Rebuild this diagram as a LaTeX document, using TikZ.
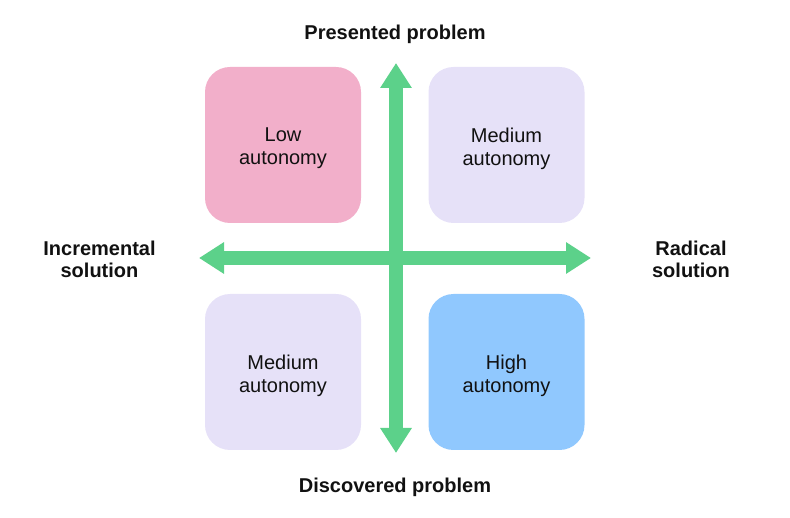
\documentclass[tikz,border=0pt]{standalone}
\usepackage{fontspec}
\setmainfont{Liberation Sans}
\usetikzlibrary{arrows.meta}
\definecolor{qpink}{HTML}{F2AFCA}
\definecolor{qlav}{HTML}{E6E1F8}
\definecolor{qblue}{HTML}{90C8FE}
\definecolor{qgreen}{HTML}{5CD18A}
\definecolor{qtext}{HTML}{111111}
\tikzset{
  quadbox/.style={draw=none, rounded corners=25pt, minimum width=156pt, minimum height=156pt, inner sep=0pt},
  boxtext/.style={align=center, text=qtext, inner sep=0pt, font=\fontsize{20}{23}\selectfont},
  axislabel/.style={align=center, text=qtext, inner sep=0pt, font=\fontsize{20}{22}\selectfont\bfseries},
  axisarrow/.style={draw=qgreen, line width=13.5pt, {Triangle[width=30pt,length=25pt]}-{Triangle[width=30pt,length=25pt]}}
}
\begin{document}
\begin{tikzpicture}[x=1pt,y=-1pt]
\useasboundingbox (0,0) rectangle (790,518);
% quadrant boxes
\node[quadbox, fill=qpink] (q1) at (283,145) {};
\node[quadbox, fill=qlav] (q2) at (506.5,145) {};
\node[quadbox, fill=qlav] (q3) at (283,372) {};
\node[quadbox, fill=qblue] (q4) at (506.5,372) {};
\node[boxtext] (t1) at ([yshift=-3.5pt]q1.center) {Low\\autonomy};
\node[boxtext] (t2) at ([yshift=-3.5pt]q2.center) {Medium\\autonomy};
\node[boxtext] (t3) at ([yshift=-3.5pt]q3.center) {Medium\\autonomy};
\node[boxtext] (t4) at ([yshift=-3.5pt]q4.center) {High\\autonomy};
% axes
\coordinate (top) at (396,63);
\coordinate (bottom) at (396,453);
\coordinate (left) at (199,258);
\coordinate (right) at (591,258);
\draw[axisarrow] (left) -- (right);
\draw[axisarrow] (bottom) -- (top);
% axis labels
\node[axislabel, anchor=base] (lt) at (395,40) {Presented problem};
\node[axislabel, anchor=base] (lb) at (395,492) {Discovered problem};
\node[axislabel] (ll) at (99.5,259) {Incremental\\solution};
\node[axislabel] (lr) at (691,259) {Radical\\solution};
\end{tikzpicture}
\end{document}
